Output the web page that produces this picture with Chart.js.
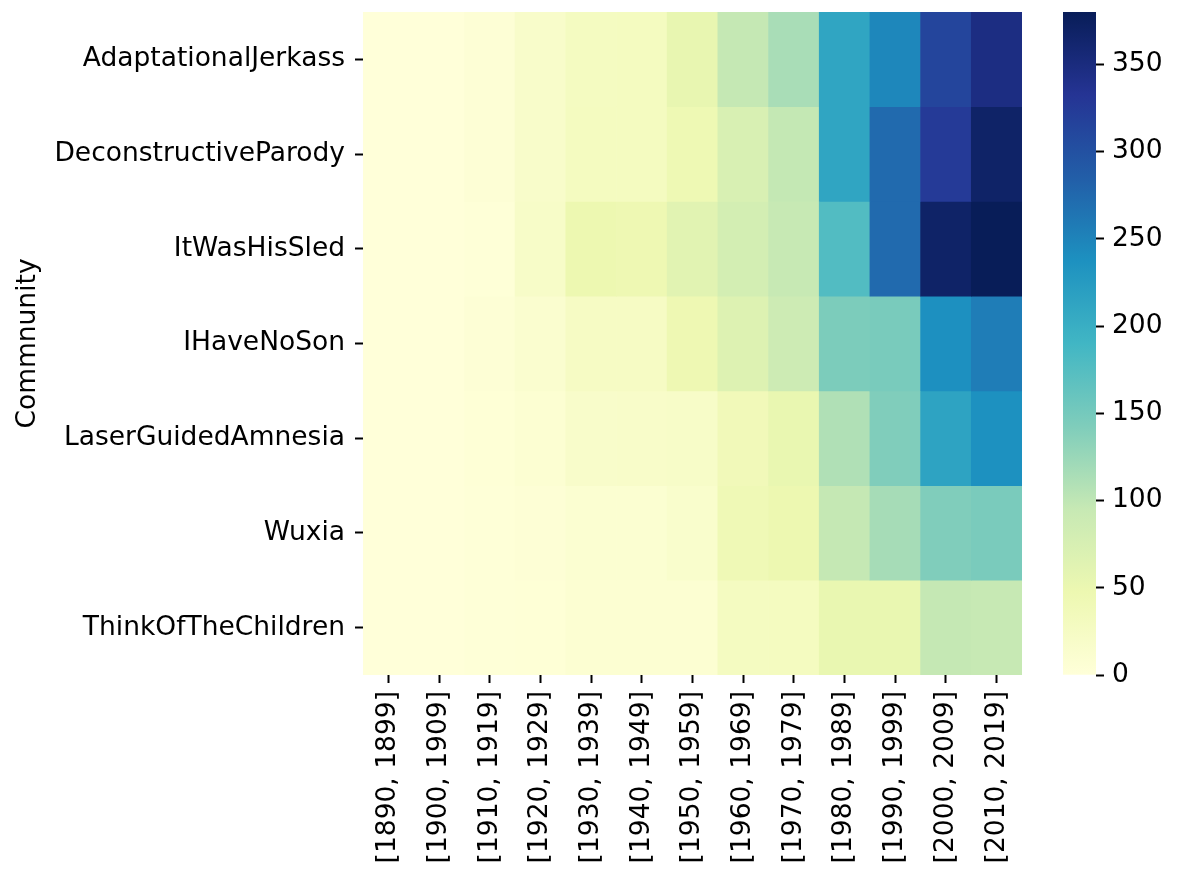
<!DOCTYPE html>
<html>
<head>
<meta charset="utf-8">
<script src="https://cdn.jsdelivr.net/npm/chart.js@4.4.1/dist/chart.umd.min.js"></script>
<style>
  html, body { margin: 0; padding: 0; background: #ffffff; }
  #wrap { position: relative; width: 1181px; height: 870px; }
  #heat { position: absolute; left: 0; top: 0; }
  #cbar { position: absolute; left: 1040px; top: 0; }
</style>
</head>
<body>
<div id="wrap">
  <canvas id="heat" width="1040" height="870"></canvas>
  <canvas id="cbar" width="141" height="870"></canvas>
</div>
<script>
// Decade bins along the x axis
const decades = [
  '[1890, 1899]', '[1900, 1909]', '[1910, 1919]', '[1920, 1929]', '[1930, 1939]',
  '[1940, 1949]', '[1950, 1959]', '[1960, 1969]', '[1970, 1979]', '[1980, 1989]',
  '[1990, 1999]', '[2000, 2009]', '[2010, 2019]'
];

// Communities, top row first
const communities = [
  'AdaptationalJerkass', 'DeconstructiveParody', 'ItWasHisSled', 'IHaveNoSon',
  'LaserGuidedAmnesia', 'Wuxia', 'ThinkOfTheChildren'
];

// Counts per decade for each community
const adaptationalJerkass  = [0, 0, 5, 18, 28, 30, 54, 96, 115, 212, 247, 313, 347];
const deconstructiveParody = [0, 0, 5, 18, 30, 30, 44, 74, 97, 212, 274, 326, 368];
const itWasHisSled         = [0, 0, 2, 20, 48, 45, 62, 80, 95, 177, 274, 368, 380];
const iHaveNoSon           = [0, 0, 5, 12, 25, 25, 45, 68, 88, 145, 147, 238, 256];
const laserGuidedAmnesia   = [0, 0, 3, 8, 18, 19, 20, 38, 52, 110, 142, 215, 237];
const wuxia                = [0, 0, 2, 5, 10, 10, 15, 42, 48, 96, 117, 142, 146];
const thinkOfTheChildren   = [0, 0, 2, 3, 8, 8, 8, 28, 30, 52, 52, 96, 95];

const rows = [adaptationalJerkass, deconstructiveParody, itWasHisSled, iHaveNoSon,
              laserGuidedAmnesia, wuxia, thinkOfTheChildren];

// Colour scale range and colorbar ticks
const colorMin = 0;
const colorMax = 380;
const colorTicks = [0, 50, 100, 150, 200, 250, 300, 350];

// YlGnBu colour stops
const ylGnBu = [
  [255, 255, 217], [237, 248, 177], [199, 233, 180], [127, 205, 187], [65, 182, 196],
  [29, 145, 192], [34, 94, 168], [37, 52, 148], [8, 29, 88]
];

function colorFor(v) {
  let t = (v - colorMin) / (colorMax - colorMin);
  t = Math.max(0, Math.min(1, t));
  const pos = t * (ylGnBu.length - 1);
  const i = Math.min(Math.floor(pos), ylGnBu.length - 2);
  const f = pos - i;
  const a = ylGnBu[i], b = ylGnBu[i + 1];
  const c = a.map((x, k) => Math.round(x + (b[k] - x) * f));
  return `rgb(${c[0]},${c[1]},${c[2]})`;
}

const FONT = { family: '"DejaVu Sans", sans-serif', size: 26.5 };
const INK = '#000000';

Chart.defaults.font.family = FONT.family;
Chart.defaults.color = INK;

// Keep tick labels from pushing the plot area inward
function noOverhang(s) {
  s.paddingTop = 0; s.paddingBottom = 0; s.paddingLeft = 0; s.paddingRight = 0;
}

// Heatmap: each row is a dataset of floating bars spanning one row slot
new Chart(document.getElementById('heat'), {
  type: 'bar',
  data: {
    labels: decades,
    datasets: rows.map((vals, r) => ({
      label: communities[r],
      data: vals.map(() => [r, r + 1]),
      backgroundColor: vals.map(colorFor),
      borderWidth: 0,
      barPercentage: 1,
      categoryPercentage: 1
    }))
  },
  options: {
    responsive: false,
    animation: false,
    events: [],
    layout: { padding: { top: 12, right: 18, left: 0, bottom: 0 } },
    plugins: { legend: { display: false }, tooltip: { enabled: false } },
    scales: {
      x: {
        type: 'category',
        stacked: true,
        offset: true,
        border: { display: false },
        grid: { offset: false, drawOnChartArea: false, drawTicks: true, tickLength: 8, tickWidth: 2, tickColor: INK },
        ticks: { autoSkip: false, minRotation: 90, maxRotation: 90, padding: 8, color: INK, font: FONT },
        afterFit: s => { s.height = 195; noOverhang(s); }
      },
      y: {
        type: 'linear',
        reverse: true,
        min: 0,
        max: communities.length,
        border: { display: false },
        grid: { drawOnChartArea: false, drawTicks: true, tickLength: 8, tickWidth: 2, tickColor: INK },
        afterBuildTicks: s => { s.ticks = communities.map((_, i) => ({ value: i + 0.5 })); },
        ticks: { padding: 10, color: INK, font: FONT, callback: (v, i) => communities[i] },
        title: { display: true, text: 'Commnunity', color: INK, font: FONT, padding: { top: 12, bottom: 0 } },
        afterFit: s => { s.width = 363; noOverhang(s); }
      }
    }
  }
});

// Colorbar: one floating bar over the full range, filled with the colour scale
new Chart(document.getElementById('cbar'), {
  type: 'bar',
  data: {
    labels: [''],
    datasets: [{
      data: [[colorMin, colorMax]],
      borderWidth: 0,
      barPercentage: 1,
      categoryPercentage: 1,
      backgroundColor: ctx => {
        const chart = ctx.chart;
        if (!chart.chartArea) return colorFor(colorMin);
        const ys = chart.scales.y;
        const g = chart.ctx.createLinearGradient(0, ys.getPixelForValue(colorMin), 0, ys.getPixelForValue(colorMax));
        ylGnBu.forEach((c, i) => g.addColorStop(i / (ylGnBu.length - 1), `rgb(${c[0]},${c[1]},${c[2]})`));
        return g;
      }
    }]
  },
  options: {
    responsive: false,
    animation: false,
    events: [],
    layout: { padding: { top: 12, left: 23, right: 0, bottom: 195 } },
    plugins: { legend: { display: false }, tooltip: { enabled: false } },
    scales: {
      x: { display: false, offset: true },
      y: {
        type: 'linear',
        position: 'right',
        min: colorMin,
        max: colorMax,
        border: { display: false },
        grid: { drawOnChartArea: false, drawTicks: true, tickLength: 8, tickWidth: 2, tickColor: INK },
        afterBuildTicks: s => { s.ticks = colorTicks.map(v => ({ value: v })); },
        ticks: { padding: 8, color: INK, font: FONT },
        afterFit: s => { s.width = 85; noOverhang(s); }
      }
    }
  }
});
</script>
</body>
</html>
